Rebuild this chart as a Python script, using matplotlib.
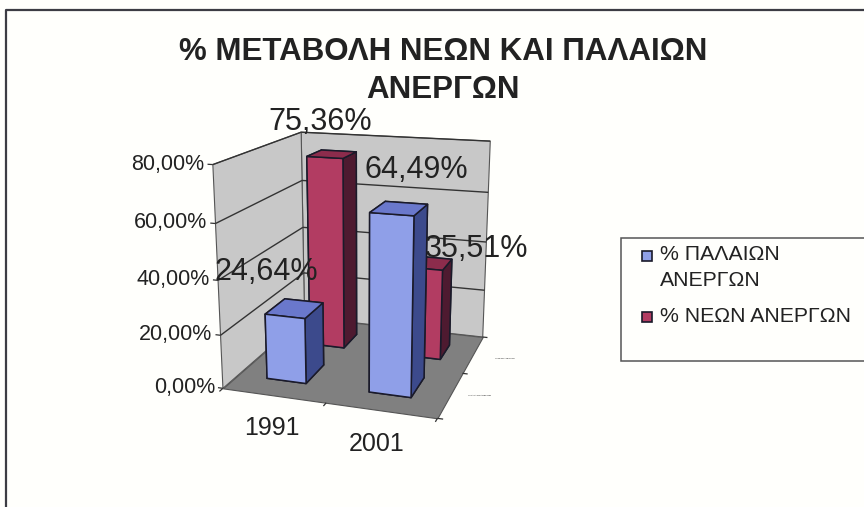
import matplotlib
matplotlib.use("Agg")
import matplotlib.pyplot as plt
import numpy as np
from matplotlib.patches import Rectangle
from mpl_toolkits.mplot3d.art3d import Poly3DCollection, Line3DCollection

plt.rcParams["font.family"] = ["Liberation Sans", "DejaVu Sans"]

years = ["1991", "2001"]
old_unemployed = [24.64, 64.49]
new_unemployed = [75.36, 35.51]
z_ticks = [0, 20, 40, 60, 80]
z_labels = ["0,00%", "20,00%", "40,00%", "60,00%", "80,00%"]
series_names = ["% ΠΑΛΑΙΩΝ ΑΝΕΡΓΩΝ", "% ΝΕΩΝ ΑΝΕΡΓΩΝ"]
title_lines = ["% ΜΕΤΑΒΟΛΗ ΝΕΩΝ ΚΑΙ ΠΑΛΑΙΩΝ", "ΑΝΕΡΓΩΝ"]

BLUE = {"front": "#8f9fe8", "top": "#6a78cc", "side": "#3c4a8c"}
RED = {"front": "#b23c62", "top": "#8c2c4c", "side": "#4e1a30"}
WALL = "#c8c8c8"
FLOOR = "#808080"
EDGE = "#1a1a2a"
TEXT = "#222222"


def fmt(value):
    return f"{value:.2f}%".replace(".", ",")


def add_bars(ax, x_start, y_start, width, depth, values, cols):
    # bar3d face order: bottom, top, front, back, left, right
    colors = [cols["front"], cols["top"], cols["front"], cols["front"], cols["front"], cols["side"]]
    for i, v in enumerate(values):
        poly = ax.bar3d(i + x_start, y_start, 0, width, depth, v, color=colors,
                        shade=False, edgecolor=EDGE, linewidth=1.1)
        poly.set_zorder(5 + (2 - y_start) + i * 0.1)


fig = plt.figure(figsize=(8.64, 5.07), dpi=100, facecolor="#fffffc")
ax = fig.add_axes([-0.09, -0.0876, 1.0, 1.12], projection="3d")
ax.computed_zorder = False
ax.set_proj_type("persp", focal_length=0.3)
ax.view_init(elev=16, azim=-72)
ax.set_box_aspect((211, 214, 217), zoom=0.634)
ax.set_xlim(0, 2)
ax.set_ylim(0, 2)
ax.set_zlim(0, 80)
ax.set_axis_off()
ax.patch.set_alpha(0)

x0, x1, y0, y1, z0, z1 = 0, 2, 0, 2, 0, 80
walls = [
    [(x0, y1, z0), (x1, y1, z0), (x1, y1, z1), (x0, y1, z1)],
    [(x0, y0, z0), (x0, y1, z0), (x0, y1, z1), (x0, y0, z1)],
]
wall_poly = Poly3DCollection(walls, facecolor=WALL, edgecolor="#555555", linewidth=0.8, zorder=1)
ax.add_collection3d(wall_poly)
floor_poly = Poly3DCollection([[(x0, y0, z0), (x1, y0, z0), (x1, y1, z0), (x0, y1, z0)]],
                              facecolor=FLOOR, edgecolor="#555555", linewidth=0.8, zorder=2)
ax.add_collection3d(floor_poly)

grid = []
for z in z_ticks[1:]:
    grid.append([(x0, y0, z), (x0, y1, z)])
    grid.append([(x0, y1, z), (x1, y1, z)])
ax.add_collection3d(Line3DCollection(grid, colors="#333333", linewidths=1.0, zorder=3))

ticks = [[(x0, y0, z), (x0 - 0.05, y0, z)] for z in z_ticks]
ticks += [[(x, y0, 0), (x, y0 - 0.07, 0)] for x in (0, 1, 2)]
ticks += [[(x1, y, 0), (x1 + 0.05, y, 0)] for y in (0, 1, 2)]
ax.add_collection3d(Line3DCollection(ticks, colors="#333333", linewidths=0.9, zorder=3))

add_bars(ax, 0.35, 1.27, 0.37, 0.40, new_unemployed, RED)
add_bars(ax, 0.29, 0.33, 0.39, 0.46, old_unemployed, BLUE)

for z, label in zip(z_ticks, z_labels):
    ax.text(x0 - 0.08, y0, z, label, ha="right", va="center", fontsize=15.5, color=TEXT, zorder=10)

# page overlay in pixels: frame, title, legend, data labels
page = fig.add_axes([0, 0, 1, 1], facecolor="none")
page.set_xlim(0, 864)
page.set_ylim(507, 0)
page.axis("off")
page.plot([5.5, 5.5, 864], [507, 9.5, 9.5], color="#3c3c44", lw=1.6)

page.text(443, 52, title_lines[0], ha="center", va="center", fontsize=22.5, fontweight="bold", color=TEXT)
page.text(443, 90, title_lines[1], ha="center", va="center", fontsize=22.5, fontweight="bold", color=TEXT)

page.text(272, 428, years[0], ha="center", va="center", fontsize=18, color=TEXT)
page.text(377, 444, years[1], ha="center", va="center", fontsize=18, color=TEXT)

label_pos = {
    old_unemployed[0]: (266, 272),
    new_unemployed[0]: (320, 122),
    old_unemployed[1]: (416, 170),
    new_unemployed[1]: (477, 249),
}
for value, (px, py) in label_pos.items():
    page.text(px, py, fmt(value), ha="center", va="center", fontsize=22, color=TEXT)

page.text(505, 358, series_names[1], ha="center", va="center", fontsize=1.6, color=TEXT)
page.text(480, 395, series_names[0], ha="center", va="center", fontsize=1.6, color=TEXT)

page.add_patch(Rectangle((621, 238), 260, 123, facecolor="#fffffc", edgecolor="#555555", lw=1.1))
page.add_patch(Rectangle((642, 251), 10, 10, facecolor=BLUE["front"], edgecolor=EDGE, lw=1.2))
page.add_patch(Rectangle((642, 312), 10, 10, facecolor=RED["front"], edgecolor=EDGE, lw=1.2))
page.text(660, 255, "% ΠΑΛΑΙΩΝ", ha="left", va="center", fontsize=15.3, color=TEXT)
page.text(660, 281, "ΑΝΕΡΓΩΝ", ha="left", va="center", fontsize=15.3, color=TEXT)
page.text(660, 316, series_names[1], ha="left", va="center", fontsize=15.3, color=TEXT)

fig.savefig("out.png", dpi=100, facecolor=fig.get_facecolor())
